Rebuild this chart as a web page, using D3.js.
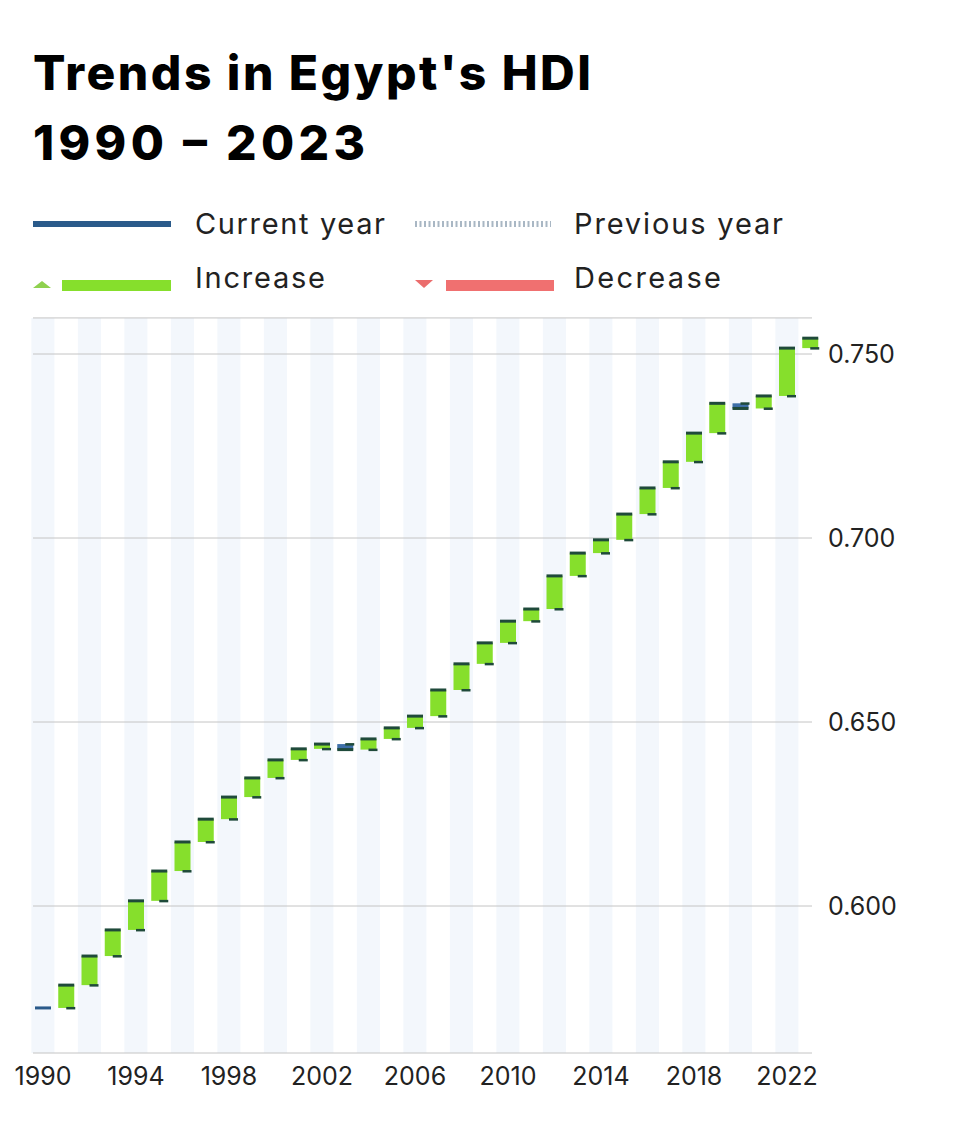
<!DOCTYPE html><html><head><meta charset="utf-8"><script src="https://cdn.jsdelivr.net/npm/d3@7"></script>
<style>body{margin:0;background:#fff;font-family:Inter,sans-serif}</style></head><body><svg id="c" width="960" height="1122"></svg>
<script>
const years=d3.range(1990,2024);
const hdi=[0.5723,0.5785,0.5864,0.5935,0.6014,0.6095,0.6174,0.6236,0.6296,0.6348,0.6397,0.6427,0.6440,0.6425,0.6454,0.6484,0.6516,0.6587,0.6658,0.6715,0.6774,0.6807,0.6897,0.6959,0.6995,0.7065,0.7136,0.7207,0.7285,0.7366,0.7352,0.7386,0.7516,0.7543];
const yTicks=[0.600,0.650,0.700,0.750];
const xTicks=[1990,1994,1998,2002,2006,2010,2014,2018,2022];
const svg=d3.select("#c");
const x=d3.scaleLinear().domain([1990,2022]).range([43,787]);
const y=d3.scaleLinear().domain([0.75,0.60]).range([354,906]);
const step=x(1991)-x(1990);
svg.selectAll("rect.s").data(years).join("rect").attr("x",d=>x(d)-step/2).attr("width",step).attr("y",318).attr("height",1053-318)
 .attr("fill",(d,i)=>i%2?"#ffffff":"#f3f7fc");
svg.selectAll("line.g").data([...yTicks,0.7598]).join("line").attr("x1",33).attr("x2",812).attr("y1",d=>y(d)).attr("y2",d=>y(d)).attr("stroke","#c4c4c4");
svg.append("line").attr("x1",33).attr("x2",812).attr("y1",1053).attr("y2",1053).attr("stroke","#c4c4c4");
svg.selectAll("text.yt").data(yTicks).join("text").attr("x",828).attr("y",d=>y(d)+9).attr("font-size",25).attr("fill","#222").text(d=>d.toFixed(3));
svg.selectAll("text.xt").data(xTicks).join("text").attr("x",d=>x(d)).attr("y",1085).attr("text-anchor","middle").attr("font-size",25).attr("fill","#222").text(d=>d);
const bw=16;
years.forEach((yr,i)=>{
 const cx=x(yr),v=hdi[i];
 if(i>0){const p=hdi[i-1];const up=v>=p;
  svg.append("rect").attr("x",cx-bw/2).attr("width",bw).attr("y",y(Math.max(v,p))).attr("height",Math.abs(y(v)-y(p))).attr("fill",up?"#86df2c":"#3e6fa8");
  svg.append("rect").attr("x",cx).attr("width",bw/2+1).attr("y",y(p)-1).attr("height",2.5).attr("fill","#1f4a3a");
 }
 svg.append("rect").attr("x",cx-bw/2).attr("width",bw).attr("y",y(v)-1.5).attr("height",3).attr("fill",i==0?"#2a5a8a":"#1f4a3a");
});
svg.append("text").attr("x",33).attr("y",90).attr("font-size",48).attr("font-weight",800).attr("textLength",558).attr("lengthAdjust","spacing").text("Trends in Egypt's HDI");
svg.append("text").attr("x",33).attr("y",160).attr("font-size",48).attr("font-weight",800).attr("textLength",332).attr("lengthAdjust","spacing").text("1990 – 2023");
svg.append("rect").attr("x",33).attr("y",221).attr("width",138).attr("height",6).attr("fill","#2a5a8a");
const lg=[["Current year",195,234,190],["Previous year",574,234,209],["Increase",195,288,130],["Decrease",574,288,147]];
svg.selectAll("text.lg").data(lg).join("text").attr("x",d=>d[1]).attr("y",d=>d[2]).attr("font-size",29).attr("fill","#222").attr("textLength",d=>d[3]).text(d=>d[0]);
svg.append("line").attr("x1",415).attr("x2",551).attr("y1",224).attr("y2",224).attr("stroke","#a9b7c4").attr("stroke-width",6).attr("stroke-dasharray","2,2.5");
svg.append("path").attr("d","M33,288 L42,281 L51,288 Z").attr("fill","#8fd14f");
svg.append("rect").attr("x",62).attr("y",280).attr("width",109).attr("height",11).attr("fill","#86df2c");
svg.append("path").attr("d","M415,280 L424,288 L433,280 Z").attr("fill","#eb6d6d");
svg.append("rect").attr("x",446).attr("y",280).attr("width",108).attr("height",11).attr("fill","#f07070");
</script></body></html>
